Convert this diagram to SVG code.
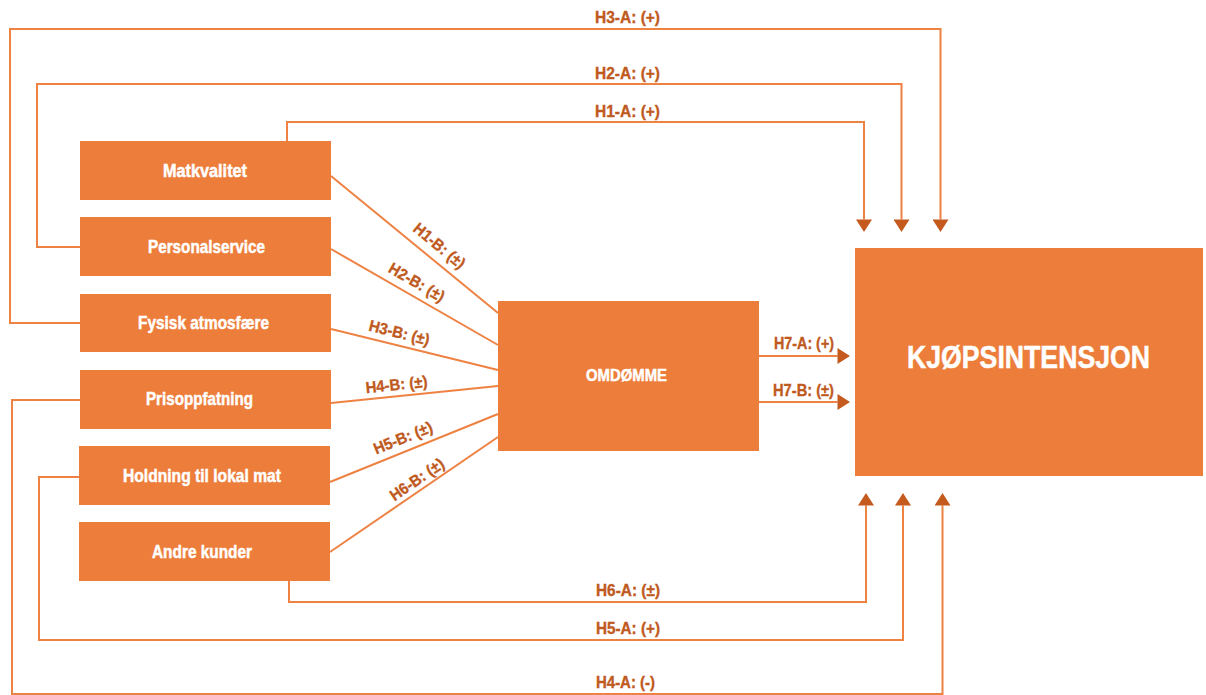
<svg xmlns="http://www.w3.org/2000/svg" width="1206" height="695" viewBox="0 0 1206 695">
<style>
.box{fill:#ED7D3A;}
.nt{font-family:"Liberation Sans",Arial,sans-serif;font-weight:bold;fill:#ffffff;stroke:#ffffff;stroke-width:0.5;text-anchor:middle;}
.lb{font-family:"Liberation Sans",Arial,sans-serif;font-weight:bold;fill:#BF5A1E;stroke:#BF5A1E;stroke-width:0.35;font-size:16px;text-anchor:middle;}
.ln{fill:none;stroke:#EE8243;stroke-width:2;}
</style>
<defs>
<marker id="ah" markerUnits="userSpaceOnUse" markerWidth="13" markerHeight="16" viewBox="0 -8 12.5 16" refX="0" refY="0" orient="auto">
<path d="M0,-8 L12.5,0 L0,8 Z" fill="#C45A1E"/>
</marker>
</defs>
<rect width="1206" height="695" fill="#ffffff"/>
<g id="connectors">
<path class="ln" d="M80,323 H10 V29 H940.5 V219.5" marker-end="url(#ah)"/>
<path class="ln" d="M80,247 H37 V84 H901.5 V219.5" marker-end="url(#ah)"/>
<path class="ln" d="M287,141 V122 H864 V219.5" marker-end="url(#ah)"/>
<path class="ln" d="M80,400 H12 V694 H942.5 V505.5" marker-end="url(#ah)"/>
<path class="ln" d="M79,477 H39 V640 H903 V505.5" marker-end="url(#ah)"/>
<path class="ln" d="M289,581 V602 H866 V505.5" marker-end="url(#ah)"/>
<path class="ln" d="M759,356 H837.5" marker-end="url(#ah)"/>
<path class="ln" d="M759,402 H837.5" marker-end="url(#ah)"/>
<path class="ln" d="M331,176 L498,313"/>
<path class="ln" d="M331,249 L498,345"/>
<path class="ln" d="M331,329 L498,370"/>
<path class="ln" d="M331,403 L498,386"/>
<path class="ln" d="M330,482 L498,414"/>
<path class="ln" d="M330,552 L498,437"/>
<text class="lb" x="627.5" y="22.7" textLength="65" lengthAdjust="spacingAndGlyphs">H3-A: (+)</text>
<text class="lb" x="627.5" y="79.3" textLength="65" lengthAdjust="spacingAndGlyphs">H2-A: (+)</text>
<text class="lb" x="627.5" y="117.3" textLength="65" lengthAdjust="spacingAndGlyphs">H1-A: (+)</text>
<text class="lb" x="628" y="596" textLength="64" lengthAdjust="spacingAndGlyphs">H6-A: (±)</text>
<text class="lb" x="628" y="634" textLength="64" lengthAdjust="spacingAndGlyphs">H5-A: (+)</text>
<text class="lb" x="625.5" y="688" textLength="59" lengthAdjust="spacingAndGlyphs">H4-A: (-)</text>
<text class="lb" x="804" y="349" font-size="14.5" textLength="60" lengthAdjust="spacingAndGlyphs">H7-A: (+)</text>
<text class="lb" x="803.5" y="396" font-size="14.5" textLength="61" lengthAdjust="spacingAndGlyphs">H7-B: (±)</text>
<text class="lb" font-size="15" textLength="62" lengthAdjust="spacingAndGlyphs" transform="translate(436,250) rotate(39.5)">H1-B: (±)</text>
<text class="lb" font-size="15" textLength="62" lengthAdjust="spacingAndGlyphs" transform="translate(414,287) rotate(30)">H2-B: (±)</text>
<text class="lb" font-size="15" textLength="62" lengthAdjust="spacingAndGlyphs" transform="translate(398,338) rotate(14)">H3-B: (±)</text>
<text class="lb" font-size="15" textLength="62" lengthAdjust="spacingAndGlyphs" transform="translate(397,390) rotate(-5.8)">H4-B: (±)</text>
<text class="lb" font-size="15" textLength="62" lengthAdjust="spacingAndGlyphs" transform="translate(405,443) rotate(-22)">H5-B: (±)</text>
<text class="lb" font-size="15" textLength="62" lengthAdjust="spacingAndGlyphs" transform="translate(420,484) rotate(-34.4)">H6-B: (±)</text>
</g>
<g id="matkvalitet"><rect class="box" x="80" y="141" width="251" height="59"/><text class="nt" x="205" y="177" font-size="19" textLength="84" lengthAdjust="spacingAndGlyphs">Matkvalitet</text></g>
<g id="personalservice"><rect class="box" x="80" y="217" width="251" height="59"/><text class="nt" x="206.5" y="253" font-size="19" textLength="117" lengthAdjust="spacingAndGlyphs">Personalservice</text></g>
<g id="fysisk"><rect class="box" x="80" y="294" width="251" height="58"/><text class="nt" x="203.5" y="329" font-size="19" textLength="131" lengthAdjust="spacingAndGlyphs">Fysisk atmosfære</text></g>
<g id="prisoppfatning"><rect class="box" x="80" y="370" width="251" height="59"/><text class="nt" x="199.5" y="405" font-size="19" textLength="107" lengthAdjust="spacingAndGlyphs">Prisoppfatning</text></g>
<g id="holdning"><rect class="box" x="79" y="446" width="251" height="59"/><text class="nt" x="202" y="481.5" font-size="19" textLength="158" lengthAdjust="spacingAndGlyphs">Holdning til lokal mat</text></g>
<g id="andre"><rect class="box" x="79" y="522" width="251" height="59"/><text class="nt" x="202" y="557.5" font-size="19" textLength="100" lengthAdjust="spacingAndGlyphs">Andre kunder</text></g>
<g id="omdomme"><rect class="box" x="498" y="301" width="261" height="150"/><text class="nt" x="626.5" y="381" font-size="16.5" textLength="81" lengthAdjust="spacingAndGlyphs">OMDØMME</text></g>
<g id="kjopsintensjon"><rect class="box" x="855" y="248" width="348" height="228"/><text class="nt" x="1028.5" y="368" font-size="31" stroke-width="0.9" textLength="243" lengthAdjust="spacingAndGlyphs">KJØPSINTENSJON</text></g>
</svg>
